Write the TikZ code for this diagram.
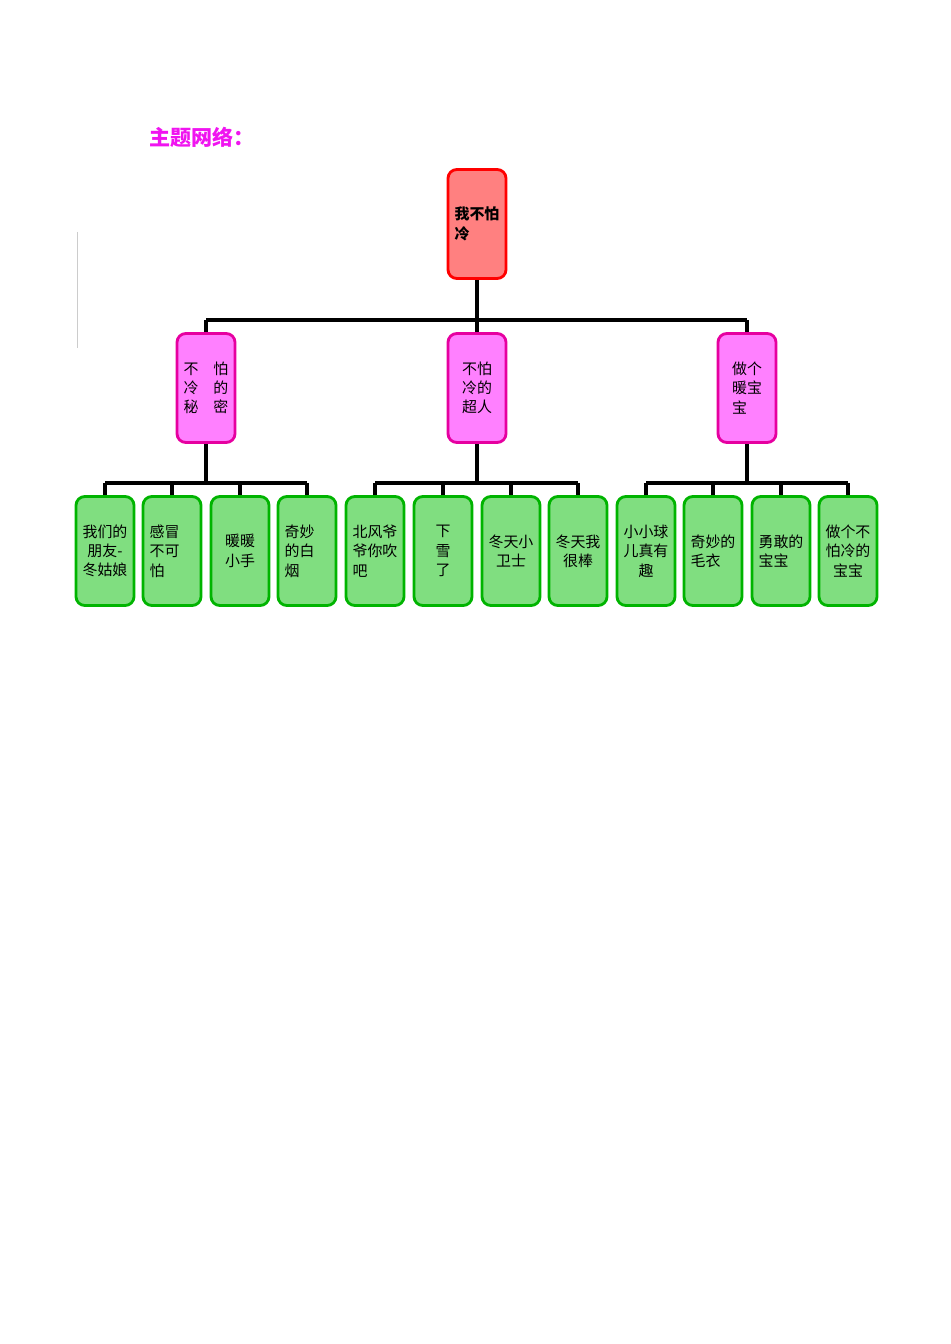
\documentclass[tikz,border=0pt]{standalone}
\usepackage{fontspec}
\setmainfont{Noto Sans CJK SC}
\usetikzlibrary{positioning}
\definecolor{rootfill}{RGB}{255,128,128}
\definecolor{midfill}{RGB}{255,128,255}
\definecolor{midline}{RGB}{230,0,160}
\definecolor{leaffill}{RGB}{128,222,128}
\definecolor{leafline}{RGB}{0,180,0}
\definecolor{titlecol}{RGB}{240,20,240}
\tikzset{
  box/.style={rounded corners=5pt,line width=1.6pt,minimum width=1.16cm,minimum height=2.18cm,
    align=center,font=\fontsize{8.5}{11}\selectfont,inner sep=1pt},
  root/.style={box,draw=red,fill=rootfill,align=left,font=\bfseries\fontsize{8.5}{11}\selectfont},
  mid/.style={box,draw=midline,fill=midfill},
  leaf/.style={box,draw=leafline,fill=leaffill},
  bar/.style={line width=2pt}
}
\begin{document}
\begin{tikzpicture}[x=0.02cm,y=-0.02cm]
\useasboundingbox (0,0) rectangle (950,1344);
%title
\node[anchor=west,text=titlecol,font=\bfseries\fontsize{12}{14}\selectfont] (title) at (143,137) {主题网络：};
\draw[gray!40,line width=0.4pt] (77,232)--(77,348);
%boxes
\node[root] (r) at (477,224) {我不怕\\冷\phantom{不怕}};
\node[mid] (m1) at (206,388) {不\quad 怕\\冷\quad 的\\秘\quad 密};
\node[mid] (m2) at (477,388) {不怕\\冷的\\超人};
\node[mid,align=left] (m3) at (747,388) {做个\\暖宝\\宝\phantom{宝}};
\foreach \x/\t [count=\i] in {105/我们的\\朋友-\\冬姑娘,172/感冒\phantom{的}\\不可\phantom{的}\\怕\phantom{的的},240/暖暖\\小手,307/奇妙\phantom{的}\\的白\phantom{的}\\烟\phantom{的的},
  375/北风爷\\爷你吹\\吧\phantom{的的},443/下\\雪\\了,511/冬天小\\卫士,578/冬天我\\很棒,
  646/小小球\\儿真有\\趣,713/奇妙的\\毛衣\phantom{的},781/勇敢的\\宝宝\phantom{的},848/做个不\\怕冷的\\宝宝}
  \node[leaf] (l\i) at (\x,551) {\t};
%tree lines
\draw[bar] (r.south)--(477,320);
\draw[bar] (206,320)--(747,320);
\foreach \m in {1,2,3} \draw[bar] (m\m.north)--(m\m.north|-0,320);
\foreach \m/\a/\b in {1/1/4,2/5/8,3/9/12}{
  \draw[bar] (m\m.south)--(m\m.south|-0,483);
  \draw[bar] (l\a.north|-0,483)--(l\b.north|-0,483);
  \foreach \j in {\a,...,\b} \draw[bar] (l\j.north)--(l\j.north|-0,483);
}
\end{tikzpicture}
\end{document}
